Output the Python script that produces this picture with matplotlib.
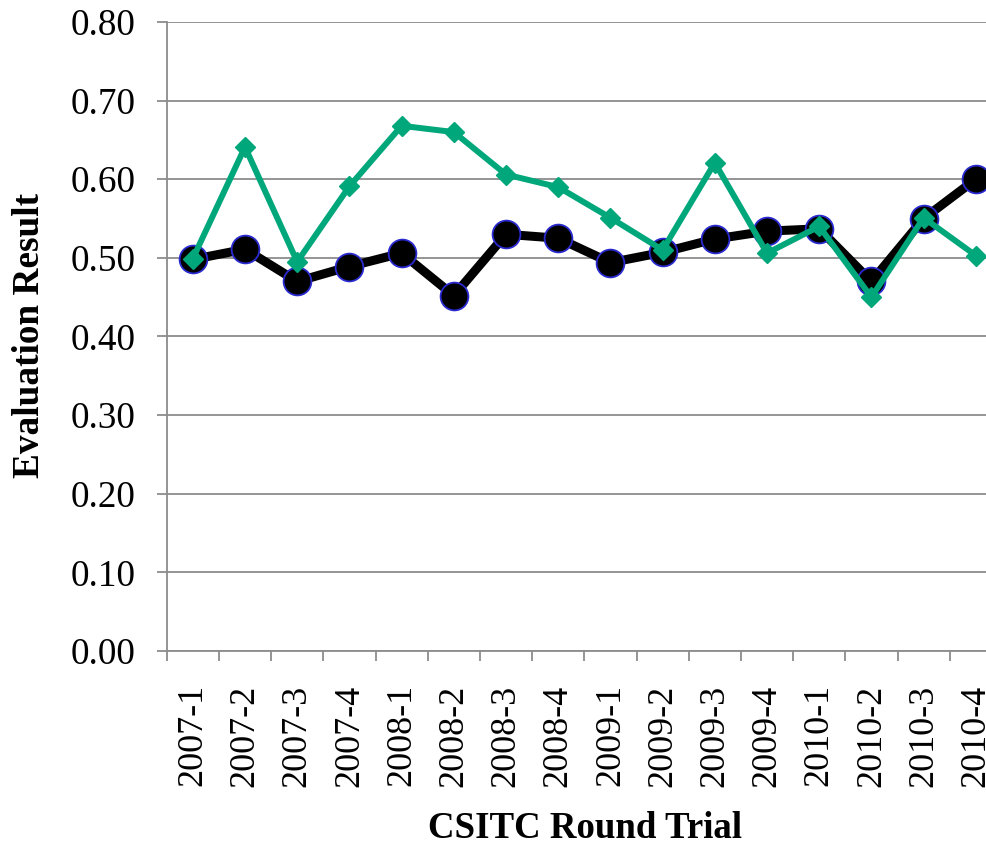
import matplotlib
matplotlib.use('Agg')
import matplotlib.pyplot as plt
import numpy as np

rounds = ['2007-1', '2007-2', '2007-3', '2007-4', '2008-1', '2008-2', '2008-3', '2008-4',
          '2009-1', '2009-2', '2009-3', '2009-4', '2010-1', '2010-2', '2010-3', '2010-4']
black_series = [0.498, 0.511, 0.470, 0.489, 0.506, 0.452, 0.530, 0.525,
                0.494, 0.507, 0.524, 0.534, 0.537, 0.470, 0.550, 0.600]
green_series = [0.499, 0.641, 0.495, 0.591, 0.668, 0.660, 0.606, 0.590,
                0.551, 0.510, 0.621, 0.506, 0.540, 0.450, 0.551, 0.503]
yticks = [0.0, 0.1, 0.2, 0.3, 0.4, 0.5, 0.6, 0.7, 0.8]

plt.rcParams['font.family'] = ['Liberation Serif', 'DejaVu Serif']
grey = '#8c8c8c'

fig = plt.figure(figsize=(9.87, 8.47), dpi=100)
W, H = 987.0, 847.0
# plot area runs a little past the right edge of the picture, as in the original
ax = fig.add_axes([166.7 / W, 196 / H, 835.2 / W, 629 / H])

x = np.arange(len(rounds))
ax.plot(x, black_series, color='black', lw=6.5, marker='o', ms=20,
        mfc='black', mec='#2a2ad0', mew=1.3, zorder=3, clip_on=False)
ax.plot(x, green_series, color='#00a77b', lw=4.3, marker='D', ms=10,
        mfc='#00a77b', mec='#00a77b', zorder=4, clip_on=False)

ax.set_xlim(-0.5, len(rounds) - 0.5)
ax.set_ylim(0, 0.8)
ax.set_yticks(yticks)
ax.set_yticklabels(['%.2f' % v for v in yticks])
ax.set_xticks(x)
ax.set_xticklabels(rounds, rotation=90)
ax.set_xticks(np.arange(len(rounds) + 1) - 0.5, minor=True)

ax.tick_params(axis='x', which='major', length=0, pad=24, labelsize=26)
ax.tick_params(axis='x', which='minor', length=7.2, width=1.3, color=grey, direction='out')
ax.tick_params(axis='y', length=7.2, width=1.3, color=grey, direction='out', pad=15, labelsize=26.7)

ax.grid(axis='y', color=grey, lw=1.3)
ax.set_axisbelow(True)
for s in ['top', 'right']:
    ax.spines[s].set_visible(False)
for s in ['left', 'bottom']:
    ax.spines[s].set_color(grey)
    ax.spines[s].set_linewidth(1.3)

fig.text(30 / W, 1 - 335 / H, 'Evaluation Result', rotation=90, ha='center', va='center',
         fontsize=26.8, fontweight='bold')
fig.text(585 / W, 1 - 828 / H, 'CSITC Round Trial', ha='center', va='center',
         fontsize=26.6, fontweight='bold')

fig.savefig('out.png', dpi=100)
